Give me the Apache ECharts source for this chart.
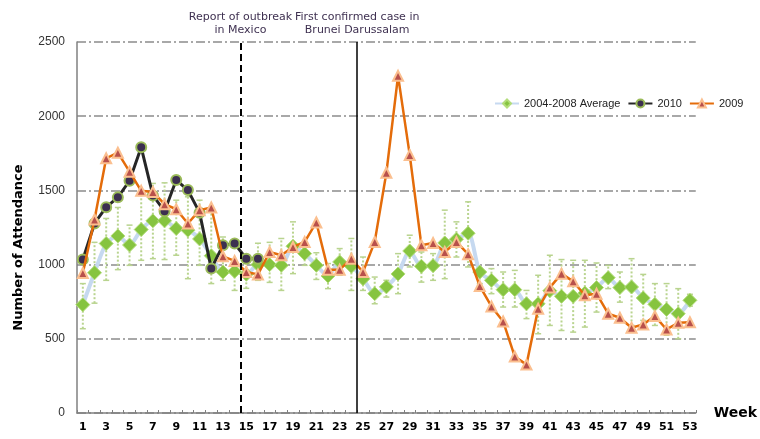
<!DOCTYPE html>
<html>
<head>
<meta charset="utf-8">
<script src="https://cdn.jsdelivr.net/npm/echarts@6/dist/echarts.min.js"></script>
<style>
html, body { margin: 0; padding: 0; background: #fff; }
#chart { width: 760px; height: 439px; }
</style>
</head>
<body>
<div id="chart"></div>
<script>
// weeks 1..53
var weeks = [];
for (var w = 1; w <= 53; w++) weeks.push(String(w));

// 2004-2008 average and its range
var avg = [730, 945, 1142, 1193, 1132, 1236, 1295, 1295, 1243, 1232,
  1173, 1060, 950, 955, 935, 1000, 1000, 995, 1124, 1074,
  995, 923, 1018, 989, 905, 804, 850, 937, 1092, 989,
  993, 1146, 1171, 1211, 950, 894, 831, 831, 736, 736,
  824, 786, 786, 808, 845, 912, 845, 849, 775, 732,
  698, 669, 759];
var avgLow = [568, 740, 894, 966, 995, 1029, 1040, 1034, 1063, 905,
  995, 872, 894, 826, 840, 894, 880, 826, 939, 995,
  900, 838, 928, 826, 826, 736, 781, 804, 984, 882,
  894, 905, 1051, 984, 872, 804, 714, 714, 636, 534,
  590, 556, 545, 579, 680, 838, 747, 590, 624, 590,
  524, 500, 720];
var avgHigh = [872, 1150, 1311, 1385, 1266, 1480, 1547, 1551, 1434, 1457,
  1434, 1355, 1186, 1007, 1043, 1144, 1150, 1176, 1288, 1153,
  1080, 1007, 1108, 1176, 1051, 916, 894, 1074, 1198, 1085,
  1074, 1367, 1288, 1423, 973, 973, 950, 961, 826, 928,
  1063, 1034, 1029, 1029, 1011, 995, 950, 1040, 934, 872,
  872, 838, 800];

// 2010 (only first 16 weeks)
var y2010 = [1034, 1277, 1387, 1453, 1565, 1790, 1466, 1360, 1570, 1502,
  1350, 973, 1130, 1142, 1040, 1040];

// 2009
var y2009 = [943, 1304, 1716, 1754, 1626, 1497, 1490, 1407, 1373, 1277,
  1367, 1385, 1056, 1025, 950, 934, 1085, 1063, 1119, 1153,
  1284, 966, 966, 1040, 950, 1153, 1619, 2272, 1739, 1130,
  1146, 1085, 1153, 1070, 855, 718, 617, 380, 326, 703,
  845, 939, 887, 793, 804, 669, 642, 574, 597, 653,
  563, 608, 612];

// event markers (placed between weeks)
var eventWeeks = [14.5, 24.5];
var eventLabels = ['Report of outbreak\nin Mexico', 'First confirmed case in\nBrunei Darussalam'];

var errData = avg.map(function (v, i) { return [i, avgLow[i], avgHigh[i]]; });

var myChart = echarts.init(document.getElementById('chart'));

var option = {
  animation: false,
  grid: { left: 77, right: 63, top: 42, bottom: 26 },
  legend: {
    left: 494, top: 98, width: 266, padding: 0,
    itemWidth: 24, itemHeight: 10, itemGap: 7,
    textStyle: { fontFamily: 'Liberation Sans', fontSize: 11, color: '#222' },
    data: ['2004-2008 Average', '2010', '2009']
  },
  xAxis: [
    {
      type: 'category',
      data: weeks,
      boundaryGap: true,
      name: 'Week',
      nameLocation: 'end',
      nameGap: 18,
      nameTextStyle: { fontFamily: 'DejaVu Sans', fontWeight: 'bold', fontSize: 14, color: '#000', padding: [0, 0, 16, 0] },
      axisLine: { lineStyle: { color: '#808080', width: 1.5 } },
      axisTick: { show: true, inside: true, length: 3, interval: 0, lineStyle: { color: '#808080' } },
      axisLabel: { interval: 1, margin: 9, fontFamily: 'DejaVu Sans', fontWeight: 'bold', fontSize: 11, color: '#000' },
      splitLine: { show: false }
    },
    { type: 'value', min: 0.5, max: 53.5, show: false }
  ],
  yAxis: {
    type: 'value',
    min: 0, max: 2500, interval: 500,
    name: 'Number of Attendance',
    nameLocation: 'middle',
    nameGap: 52,
    nameTextStyle: { fontFamily: 'DejaVu Sans', fontWeight: 'bold', fontSize: 13, color: '#000', padding: [0, 40, 0, 0] },
    axisLine: { show: true, lineStyle: { color: '#808080', width: 1.5 } },
    axisTick: { show: false },
    axisLabel: {
      margin: 12, fontFamily: 'Liberation Sans', fontSize: 12, color: '#333',
      formatter: function (v) { return String(v); }
    },
    splitLine: { lineStyle: { color: '#8c8c8c', width: 1.5, type: [9, 3, 2, 3] } }
  },
  series: [
    {
      name: 'errors',
      type: 'custom',
      z: 1,
      data: errData,
      renderItem: function (params, api) {
        var lo = api.coord([api.value(0), api.value(1)]);
        var hi = api.coord([api.value(0), api.value(2)]);
        var st = { stroke: '#b9d48f', lineWidth: 2, lineDash: [2, 2] };
        var cap = { stroke: '#b9d48f', lineWidth: 1.5 };
        return {
          type: 'group',
          children: [
            { type: 'line', shape: { x1: lo[0], y1: lo[1], x2: hi[0], y2: hi[1] }, style: st },
            { type: 'line', shape: { x1: lo[0] - 3, y1: lo[1], x2: lo[0] + 3, y2: lo[1] }, style: cap },
            { type: 'line', shape: { x1: hi[0] - 3, y1: hi[1], x2: hi[0] + 3, y2: hi[1] }, style: cap }
          ]
        };
      }
    },
    {
      name: '2004-2008 Average',
      type: 'line',
      z: 2,
      data: avg,
      smooth: 0.25,
      showAllSymbol: true,
      symbol: 'diamond',
      symbolSize: 14,
      lineStyle: { color: '#c6d9f0', width: 4 },
      itemStyle: { color: '#86c440', borderColor: '#b3dd7a', borderWidth: 1 }
    },
    {
      name: '2010',
      type: 'line',
      z: 3,
      data: y2010,
      showAllSymbol: true,
      symbol: 'circle',
      symbolSize: 10,
      lineStyle: { color: '#262626', width: 3 },
      itemStyle: { color: '#3c2f50', borderColor: '#9bbb59', borderWidth: 2 }
    },
    {
      name: '2009',
      type: 'line',
      z: 4,
      data: y2009,
      showAllSymbol: true,
      symbol: 'triangle',
      symbolSize: 10,
      lineStyle: { color: '#e46c0a', width: 2.5 },
      itemStyle: { color: '#b8504b', borderColor: '#fbbf8f', borderWidth: 2 }
    },
    {
      name: 'events',
      type: 'line',
      xAxisIndex: 1,
      data: [],
      markLine: {
        silent: true,
        symbol: 'none',
        label: {
          show: true,
          position: 'end',
          distance: 5,
          fontFamily: 'DejaVu Sans',
          fontSize: 11,
          lineHeight: 13,
          color: '#3f3151',
          letterSpacing: -0.3,
          formatter: function (p) { return p.name; }
        },
        data: [
          [{ name: eventLabels[0], coord: [eventWeeks[0], 0] },
           { coord: [eventWeeks[0], 2500], lineStyle: { color: '#000', width: 2, type: [7, 4] } }],
          [{ name: eventLabels[1], coord: [eventWeeks[1], 0] },
           { coord: [eventWeeks[1], 2500], lineStyle: { color: '#000', width: 1.5, type: 'solid' } }]
        ],
        lineStyle: { color: '#000' }
      }
    }
  ]
};

myChart.setOption(option);
</script>
</body>
</html>
